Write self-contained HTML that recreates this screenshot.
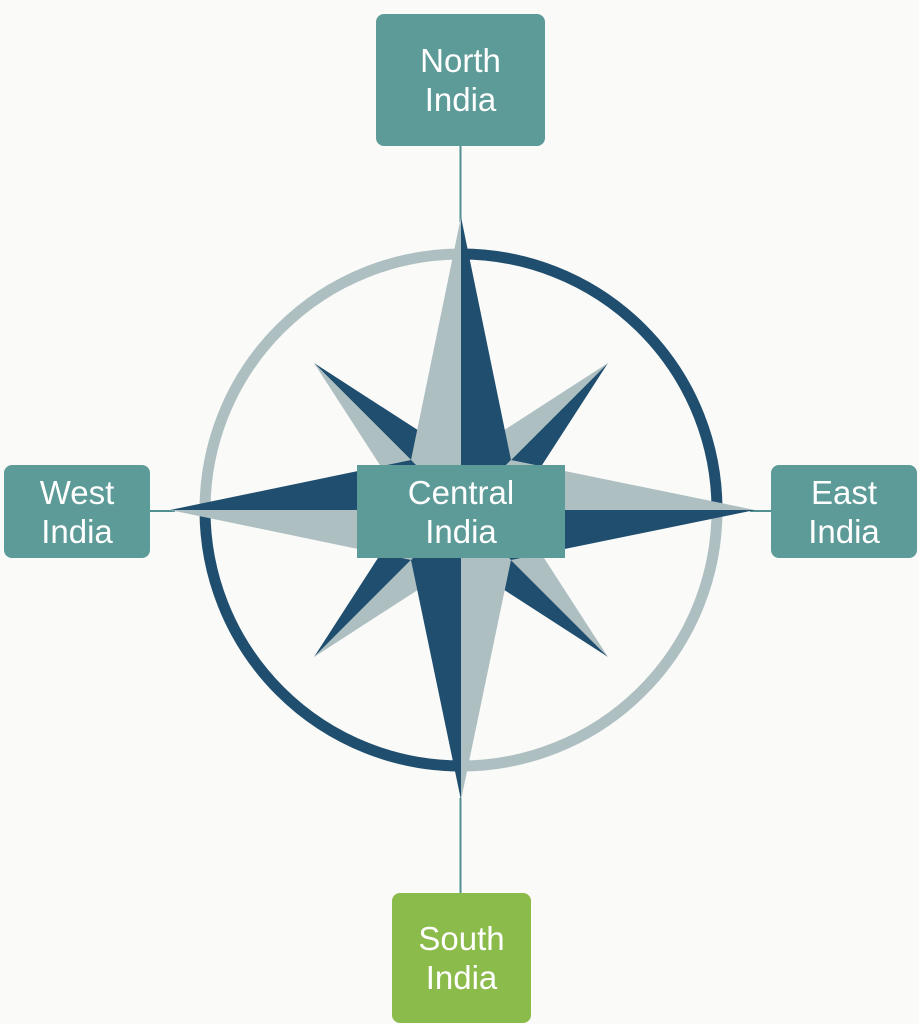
<!DOCTYPE html>
<html>
<head>
<meta charset="utf-8">
<style>
  html, body { margin:0; padding:0; }
  body { width:919px; height:1024px; background:#fafaf8; position:relative; overflow:hidden;
         font-family:"Liberation Sans", sans-serif; }
  .box { position:absolute; background:#5c9b98; color:#fff; display:flex; align-items:center;
         justify-content:center; text-align:center; font-size:33px; line-height:39px; border-radius:8px; }
  svg { position:absolute; left:0; top:0; }
</style>
</head>
<body>
<svg width="919" height="1024" viewBox="0 0 919 1024">
  <!-- connectors -->
  <line x1="460.5" y1="146" x2="460.5" y2="222" stroke="#4f9090" stroke-width="2"/>
  <line x1="460.5" y1="798" x2="460.5" y2="893" stroke="#4f9090" stroke-width="2"/>
  <line x1="150" y1="511" x2="175" y2="511" stroke="#4f9090" stroke-width="2"/>
  <line x1="750" y1="511" x2="771" y2="511" stroke="#4f9090" stroke-width="2"/>
  <g transform="translate(461,510)">
    <!-- ring -->
    <g fill="none" stroke-width="11">
      <path d="M -256 0 A 256 256 0 0 1 0 -256" stroke="#aebfc2"/>
      <path d="M 0 -256 A 256 256 0 0 1 256 0" stroke="#1f4e6f"/>
      <path d="M 256 0 A 256 256 0 0 1 0 256" stroke="#aebfc2"/>
      <path d="M 0 256 A 256 256 0 0 1 -256 0" stroke="#1f4e6f"/>
    </g>
    <!-- diagonal arms -->
    <polygon points="-147,-147 0,0 0,-52" fill="#1f4e6f"/>
    <polygon points="-147,-147 0,0 -52,0" fill="#aebfc2"/>
    <polygon points="147,-147 0,0 52,0" fill="#1f4e6f"/>
    <polygon points="147,-147 0,0 0,-52" fill="#aebfc2"/>
    <polygon points="147,147 0,0 0,52" fill="#1f4e6f"/>
    <polygon points="147,147 0,0 52,0" fill="#aebfc2"/>
    <polygon points="-147,147 0,0 -52,0" fill="#1f4e6f"/>
    <polygon points="-147,147 0,0 0,52" fill="#aebfc2"/>
    <!-- main arms -->
    <polygon points="0,-293 0,0 -50,-50" fill="#aebfc2"/>
    <polygon points="0,-293 0,0 50,-50" fill="#1f4e6f"/>
    <polygon points="294,0 0,0 50,-50" fill="#aebfc2"/>
    <polygon points="294,0 0,0 50,50" fill="#1f4e6f"/>
    <polygon points="0,290 0,0 50,50" fill="#aebfc2"/>
    <polygon points="0,290 0,0 -50,50" fill="#1f4e6f"/>
    <polygon points="-291,0 0,0 -50,50" fill="#aebfc2"/>
    <polygon points="-291,0 0,0 -50,-50" fill="#1f4e6f"/>
  </g>
</svg>

<div class="box" style="left:376px; top:14px; width:169px; height:132px;">North<br>India</div>
<div class="box" style="left:4px; top:465px; width:146px; height:93px;">West<br>India</div>
<div class="box" style="left:771px; top:465px; width:146px; height:93px;">East<br>India</div>
<div class="box" style="left:357px; top:465px; width:208px; height:93px; border-radius:0;">Central<br>India</div>
<div class="box" style="left:392px; top:893px; width:139px; height:130px; background:#8bbb4b;">South<br>India</div>
</body>
</html>
